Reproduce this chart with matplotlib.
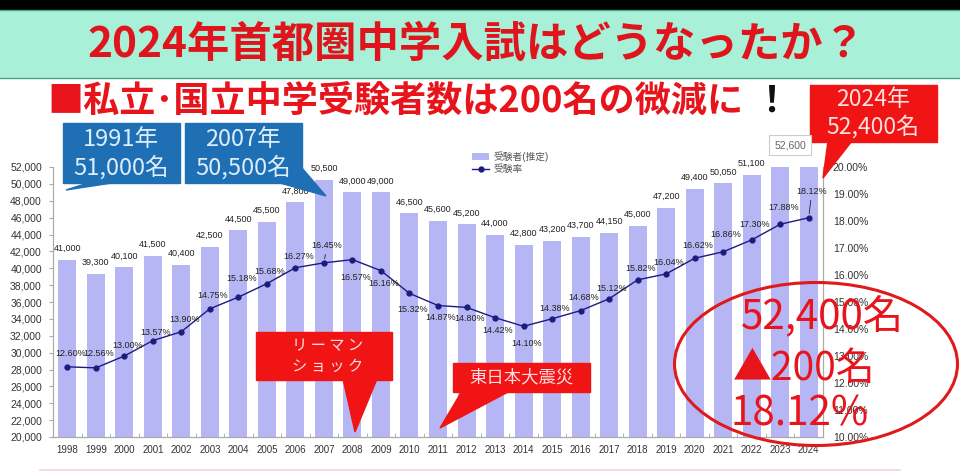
import numpy as np
import matplotlib
matplotlib.use('Agg')
import matplotlib.pyplot as plt
from matplotlib.patches import Rectangle, Polygon, Ellipse
from matplotlib.ticker import FuncFormatter

plt.rcParams['font.family'] = ['Liberation Sans', 'Noto Sans CJK JP', 'DejaVu Sans']
JP = ['Noto Sans CJK JP', 'DejaVu Sans']

# data
years = list(range(1998, 2025))
applicants = [41000, 39300, 40100, 41500, 40400, 42500, 44500, 45500, 47800, 50500,
              49000, 49000, 46500, 45600, 45200, 44000, 42800, 43200, 43700, 44150,
              45000, 47200, 49400, 50050, 51100, 52600, 52400]
rates = [12.60, 12.56, 13.00, 13.57, 13.90, 14.75, 15.18, 15.68, 16.27, 16.45,
         16.57, 16.16, 15.32, 14.87, 14.80, 14.42, 14.10, 14.38, 14.68, 15.12,
         15.82, 16.04, 16.62, 16.86, 17.30, 17.88, 18.12]
bar_name = '受験者(推定)'
rate_name = '受験率'
title = '2024年首都圏中学入試はどうなったか？'
subtitle = '■私立･国立中学受験者数は200名の微減に'

# label placement (pixels, image y downwards)
rate_label_dy = [-13, -14, -10, -8, -12, -13, -19, -12, -11, -17,
                 18, 13, 16, 12, 11, 13, 17, -10, -13, -10,
                 -11, -11, -13, -17, -15, -17, -26]
leader = {9, 21, 26}

W, H = 960, 475
fig = plt.figure(figsize=(W / 100, H / 100), dpi=100)
fig.patch.set_facecolor('white')

# ---- chart ----
L, R, T, B = 53, 823, 167, 437
ax = fig.add_axes([L / W, 1 - B / H, (R - L) / W, (B - T) / H])
x = np.arange(len(years))
bars = ax.bar(x, applicants, width=0.63, color='#b6b6f4', label=bar_name, zorder=1)
ax.set_xlim(-0.5, len(years) - 0.5)
ax.set_ylim(20000, 52000)
ax.set_yticks(range(20000, 52001, 2000))
ax.yaxis.set_major_formatter(FuncFormatter(lambda v, p: f'{int(v):,}'))
ax.set_xticks(x, [str(y) for y in years])
ax.set_xticks(np.arange(-0.5, len(years), 1), minor=True)
ax.tick_params(axis='x', which='major', length=0, labelsize=7, pad=6, labelcolor='#333333')
ax.tick_params(axis='x', which='minor', length=3, direction='in', color='#aaaaaa')
ax.tick_params(axis='y', length=3, labelsize=7.5, labelcolor='#333333', color='#aaaaaa', pad=5)
ax.spines['top'].set_visible(False)
for s in ['left', 'bottom', 'right']:
    ax.spines[s].set_color('#aaaaaa')

for i, v in enumerate(applicants[:-2]):
    ax.annotate(f'{v:,}', (i, v), xytext=(0, 5), textcoords='offset points',
                ha='center', va='bottom', fontsize=6.5, color='#222222')

ax2 = ax.twinx()
line, = ax2.plot(x, rates, color='#1c1c80', marker='o', ms=3.5, lw=1, label=rate_name)
ax2.set_ylim(10, 20)
ax2.set_yticks(np.arange(10, 20.5, 1))
ax2.yaxis.set_major_formatter(FuncFormatter(lambda v, p: f'{v:.2f}%'))
ax2.tick_params(axis='y', length=0, labelsize=7.5, labelcolor='#333333', pad=7)
ax2.spines['top'].set_visible(False)
for s in ['left', 'bottom', 'right']:
    ax2.spines[s].set_color('#aaaaaa')

for i, r in enumerate(rates):
    ap = dict(arrowstyle='-', lw=0.6, color='#222222', shrinkA=1, shrinkB=3) if i in leader else None
    ax2.annotate(f'{r:.2f}%', (i, r), xytext=(3, -rate_label_dy[i]), textcoords='offset pixels',
                 ha='center', va='center', fontsize=6.5, color='#222222', arrowprops=ap)

ax2.legend(handles=[bars, line], loc='upper left', bbox_to_anchor=(468 / W, 1 - 147 / H),
           bbox_transform=fig.transFigure, frameon=False, fontsize=7, labelcolor='#555555',
           handlelength=1.8, handletextpad=0.4, labelspacing=0.25, borderaxespad=0)

# ---- overlay in pixel coordinates ----
ov = fig.add_axes([0, 0, 1, 1], zorder=5)
ov.set_xlim(0, W)
ov.set_ylim(H, 0)
ov.axis('off')

ov.add_patch(Rectangle((0, 0), W, 10, color='black'))
ov.add_patch(Rectangle((-2, 10), W + 4, 68, facecolor='#a8f1d8', edgecolor='#4aa88a', lw=1))
ov.text(476, 45, title, ha='center', va='center', fontsize=30.5, fontweight='bold',
        color='#e0141c', family=JP)
ov.text(47, 101, subtitle, ha='left', va='center', fontsize=26, fontweight='bold',
        color='#e8141c', family=JP)
ov.text(771, 101, '！', ha='center', va='center', fontsize=26, fontweight='bold',
        color='#111111', family=JP)

blue, blue_txt = '#1f6fb5', '#dcedfb'
red, red_txt = '#f01414', '#ffe0e0'

# 1991 callout
ov.add_patch(Polygon([(88, 183), (112, 183), (66, 190)], color=blue))
ov.add_patch(Rectangle((63, 123), 117, 60, color=blue))
ov.text(121, 140, '1991年', ha='center', va='center', fontsize=17, color=blue_txt, family=JP)
ov.text(121, 167, '51,000名', ha='center', va='center', fontsize=17, color=blue_txt, family=JP)

# 2007 callout
ov.add_patch(Polygon([(280, 183), (302, 168), (326, 196)], color=blue))
ov.add_patch(Rectangle((185, 123), 117, 60, color=blue))
ov.text(243, 140, '2007年', ha='center', va='center', fontsize=17, color=blue_txt, family=JP)
ov.text(243, 167, '50,500名', ha='center', va='center', fontsize=17, color=blue_txt, family=JP)

# 2024 callout
ov.add_patch(Polygon([(828, 141), (852, 141), (823, 178)], color=red))
ov.add_patch(Rectangle((810, 85), 127, 57, color=red))
ov.text(873, 99, '2024年', ha='center', va='center', fontsize=16.5, color=red_txt, family=JP)
ov.text(873, 127, f'{applicants[-1]:,}名', ha='center', va='center', fontsize=16.5,
        color=red_txt, family=JP)

# 52,600 boxed label for 2023
ov.text(790, 145, f'{applicants[-2]:,}', ha='center', va='center', fontsize=7.5, color='#666666',
        bbox=dict(boxstyle='square,pad=0.5', fc='white', ec='#cccccc', lw=0.8))

# Lehman shock
ov.add_patch(Polygon([(343, 379), (377, 379), (355, 432)], color=red))
ov.add_patch(Rectangle((256, 332), 136, 48, color=red))
ov.text(328, 346, 'リ ー マ ン', ha='center', va='center', fontsize=11, color=red_txt, family=JP)
ov.text(328, 366, 'シ ョ ッ ク', ha='center', va='center', fontsize=11, color=red_txt, family=JP)

# Great East Japan Earthquake
ov.add_patch(Polygon([(462, 391), (510, 391), (440, 428)], color=red))
ov.add_patch(Rectangle((453, 363), 137, 29, color=red))
ov.text(521, 377, '東日本大震災', ha='center', va='center', fontsize=12.5, color=red_txt, family=JP)

# red ellipse summary
ov.add_patch(Ellipse((816, 364), 283, 163, fill=False, ec='#e01a1a', lw=2.2))
ov.text(741, 317, f'{applicants[-1]:,}名', ha='left', va='center', fontsize=29, color='#e8141c', family=JP)
ov.text(733, 369, f'▲{applicants[-2] - applicants[-1]}名', ha='left', va='center', fontsize=28,
        color='#e8141c', family=JP)
ov.text(731, 414, f'{rates[-1]:.2f}%', ha='left', va='center', fontsize=29, color='#e8141c', family=JP)

ov.plot([40, 900], [470, 470], color='#f6d3dc', lw=1.2)

fig.savefig('out.png', dpi=100)
plt.close(fig)
